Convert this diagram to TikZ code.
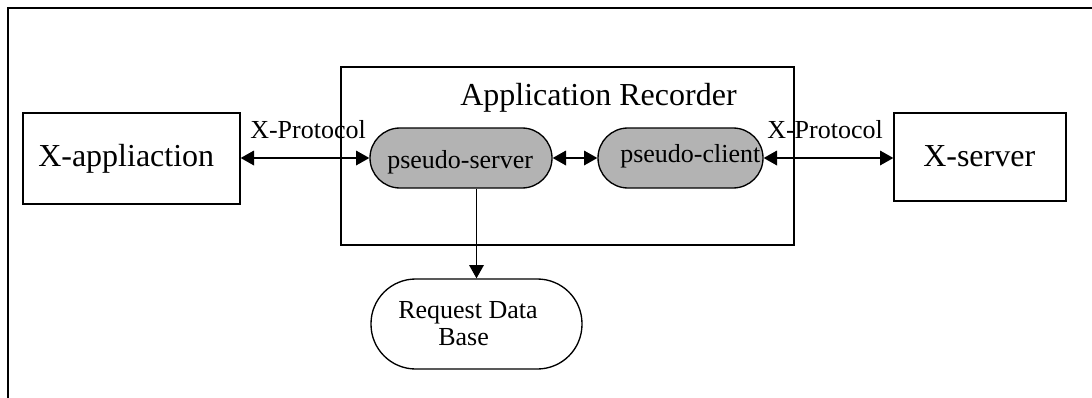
\documentclass[tikz,border=0pt]{standalone}
\usepackage{fontspec}
\setmainfont{Liberation Serif}
\usetikzlibrary{arrows.meta,fit,calc}
\definecolor{pillgray}{RGB}{179,179,179}
\tikzset{
  box/.style={draw, line width=1pt, inner sep=0pt},
  pill/.style={draw, line width=1pt, inner sep=0pt, fill=pillgray, rounded corners=22.5pt},
  dbpill/.style={draw, line width=1pt, inner sep=0pt, rounded corners=33.5pt},
  link/.style={line width=1pt, {Triangle[length=10pt,width=11pt]}-{Triangle[length=10pt,width=11pt]}},
  downlink/.style={line width=1pt, -{Triangle[length=10pt,width=11pt]}},
  big/.style={font=\fontsize{24}{28}\selectfont, inner sep=0pt, anchor=base west},
  mid/.style={font=\fontsize{19.5}{23}\selectfont, inner sep=0pt, anchor=base west},
}
\begin{document}
\begin{tikzpicture}[x=0.75pt, y=-0.75pt]
\useasboundingbox (0,0) rectangle (1092,397);

% outer frame (top and left edges)
\draw[line width=1.5pt] (1100,7.5) -- (7.5,7.5) -- (7.5,405);

% boxes
\node[box, fit={(23,113) (240,204)}] (xapp) {};
\node[box, fit={(894,113) (1066,201)}] (xsrv) {};
\node[box, fit={(341,67) (794,245)}] (rec) {};
\node[pill, fit={(370,128) (552,188)}] (ps) {};
\node[pill, fit={(598,128) (763,188)}] (pc) {};
\node[dbpill, fit={(371,279) (582,369)}] (db) {};

% texts
\node[big] (txapp) at (38,166) {X-appliaction};
\node[big] (txsrv) at (923,166) {X-server};
\node[big] (trec) at (460,105) {Application Recorder};
\node[mid] (tps) at (387,168) {pseudo-server};
\node[mid] (tpc) at (620,162) {pseudo-client};
\node[mid] (tproto1) at (250,138) {X-Protocol};
\node[mid] (tproto2) at (767,138) {X-Protocol};
\node[mid] (tdb1) at (398,318) {Request Data};
\node[mid] (tdb2) at (438,345) {Base};

% connectors
\draw[link] (xapp.east |- ps.west) -- (ps.west);
\draw[link] (ps.east) -- (pc.west);
\draw[link] (pc.east) -- (pc.east -| xsrv.west);
\draw[downlink] (ps.south -| db.north) -- (db.north);
\end{tikzpicture}
\end{document}
